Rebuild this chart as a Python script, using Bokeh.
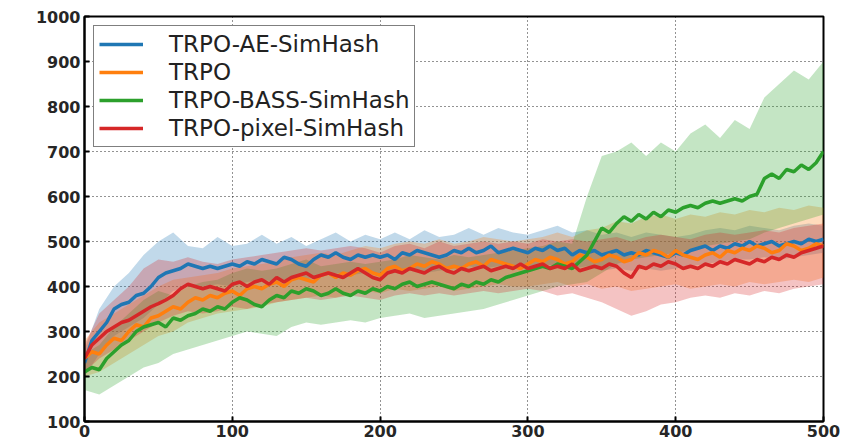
from bokeh.plotting import figure
from bokeh.models import ColumnDataSource, Legend, LegendItem, FixedTicker, Range1d
from bokeh.embed import file_html
from bokeh.resources import INLINE

# iterations
x_mean = list(range(0, 501, 5))
x_band = list(range(0, 501, 10))

names = ["TRPO-AE-SimHash", "TRPO", "TRPO-BASS-SimHash", "TRPO-pixel-SimHash"]
colors = ["#1f77b4", "#ff7f0e", "#2ca02c", "#d62728"]

ae_mean = [230, 280, 300, 320, 350, 360, 365, 380, 385, 400,
           420, 430, 435, 440, 450, 445, 440, 445, 440, 445,
           450, 445, 455, 450, 460, 455, 450, 465, 460, 450,
           445, 460, 470, 465, 475, 465, 460, 470, 465, 470,
           465, 470, 460, 475, 470, 480, 475, 470, 465, 470,
           480, 475, 485, 475, 480, 490, 475, 480, 485, 480,
           475, 485, 480, 490, 480, 485, 470, 480, 475, 480,
           470, 475, 480, 470, 475, 470, 480, 475, 470, 465,
           475, 470, 480, 485, 490, 480, 490, 485, 495, 490,
           500, 490, 495, 500, 490, 495, 500, 495, 505, 500,
           505]
trpo_mean = [240, 255, 250, 270, 285, 280, 300, 315, 310, 330,
             335, 345, 355, 350, 365, 375, 370, 380, 375, 385,
             390, 380, 395, 400, 395, 405, 410, 400, 415, 420,
             415, 410, 425, 430, 420, 430, 425, 435, 440, 430,
             425, 440, 445, 435, 440, 450, 445, 455, 450, 440,
             445, 440, 450, 455, 445, 460, 455, 450, 445, 440,
             450, 460, 455, 465, 460, 450, 455, 470, 465, 455,
             460, 470, 465, 455, 460, 475, 470, 480, 475, 465,
             480, 470, 465, 460, 470, 475, 465, 480, 475, 485,
             480, 490, 485, 475, 480, 495, 490, 480, 485, 495,
             490]
bass_mean = [210, 220, 215, 240, 255, 270, 280, 300, 310, 315,
             320, 310, 330, 325, 335, 340, 350, 345, 355, 350,
             365, 375, 370, 360, 355, 370, 380, 375, 390, 385,
             395, 390, 380, 385, 395, 385, 380, 390, 385, 395,
             390, 400, 395, 405, 410, 400, 405, 410, 405, 400,
             395, 405, 400, 410, 405, 415, 410, 420, 425, 430,
             435, 440, 445, 440, 450, 445, 440, 455, 470, 500,
             530, 520, 540, 555, 545, 560, 550, 565, 555, 570,
             565, 575, 580, 575, 585, 590, 585, 590, 595, 590,
             600, 605, 640, 650, 640, 660, 655, 670, 660, 675,
             700]
pixel_mean = [240, 270, 285, 300, 310, 320, 325, 335, 345, 355,
              362, 370, 380, 395, 405, 400, 395, 400, 395, 390,
              405, 410, 400, 410, 415, 405, 420, 410, 420, 425,
              430, 420, 425, 430, 425, 420, 430, 440, 430, 420,
              415, 430, 435, 430, 440, 435, 430, 440, 445, 435,
              430, 440, 435, 440, 445, 435, 440, 445, 440, 450,
              440, 445, 450, 440, 445, 440, 450, 435, 440, 445,
              440, 450, 445, 430, 420, 445, 440, 450, 445, 455,
              450, 440, 445, 440, 450, 445, 455, 450, 460, 455,
              450, 460, 455, 465, 460, 470, 465, 475, 480, 485,
              490]

ae_lower = [200, 250, 290, 310, 330, 360, 390, 400, 400, 405,
            400, 410, 415, 410, 420, 415, 425, 430, 425, 430,
            425, 430, 435, 430, 435, 440, 445, 440, 445, 440,
            445, 450, 445, 440, 445, 435, 440, 435, 440, 435,
            440, 445, 450, 455, 460, 460, 465, 460, 465, 470,
            475]
ae_upper = [260, 350, 400, 430, 470, 500, 520, 490, 485, 510,
            490, 495, 515, 495, 510, 490, 505, 520, 500, 515,
            505, 520, 505, 525, 510, 515, 530, 515, 530, 520,
            515, 525, 535, 520, 525, 515, 520, 510, 520, 515,
            510, 515, 525, 530, 525, 535, 530, 525, 535, 540,
            535]
trpo_lower = [200, 210, 230, 250, 270, 290, 300, 320, 330, 340,
              345, 350, 355, 365, 370, 375, 380, 375, 385, 390,
              385, 395, 390, 395, 400, 390, 395, 400, 405, 400,
              400, 405, 410, 400, 405, 395, 400, 390, 395, 400,
              405, 395, 400, 405, 400, 410, 405, 410, 415, 410,
              420]
trpo_upper = [280, 320, 340, 360, 380, 400, 415, 420, 425, 430,
              440, 445, 450, 455, 465, 470, 475, 470, 480, 490,
              485, 495, 500, 495, 505, 495, 500, 510, 505, 500,
              505, 510, 520, 510, 525, 530, 545, 540, 555, 560,
              550, 560, 555, 565, 560, 570, 565, 575, 570, 580,
              575]
bass_lower = [170, 160, 180, 200, 220, 230, 250, 260, 270, 280,
              290, 300, 295, 290, 310, 320, 315, 320, 325, 320,
              330, 335, 340, 330, 335, 340, 345, 350, 360, 370,
              380, 390, 400, 405, 410, 430, 450, 460, 465, 470,
              475, 480, 490, 495, 500, 505, 520, 530, 540, 550,
              560]
bass_upper = [250, 270, 310, 340, 370, 390, 380, 400, 410, 415,
              430, 440, 435, 440, 450, 460, 445, 450, 455, 450,
              455, 460, 470, 465, 460, 470, 465, 470, 475, 480,
              485, 490, 500, 495, 600, 690, 700, 720, 690, 720,
              700, 740, 760, 730, 770, 750, 820, 850, 880, 860,
              900]
pixel_lower = [210, 240, 260, 280, 300, 320, 335, 345, 340, 345,
               355, 350, 360, 365, 370, 375, 370, 375, 380, 375,
               370, 380, 385, 380, 385, 380, 385, 390, 385, 390,
               395, 390, 380, 385, 375, 365, 350, 335, 345, 360,
               365, 375, 380, 375, 385, 380, 390, 385, 395, 400,
               405]
pixel_upper = [270, 340, 370, 400, 440, 460, 455, 465, 455, 450,
               460, 465, 470, 475, 480, 485, 480, 485, 490, 485,
               475, 490, 495, 485, 500, 490, 495, 500, 495, 500,
               495, 505, 500, 505, 500, 505, 510, 500, 510, 515,
               510, 505, 515, 520, 515, 520, 525, 520, 530, 535,
               540]

means = [ae_mean, trpo_mean, bass_mean, pixel_mean]
lowers = [ae_lower, trpo_lower, bass_lower, pixel_lower]
uppers = [ae_upper, trpo_upper, bass_upper, pixel_upper]

x_ticks = [0, 100, 200, 300, 400, 500]
y_ticks = [100, 200, 300, 400, 500, 600, 700, 800, 900, 1000]

p = figure(width=861, height=446, output_backend="svg", toolbar_location=None,
           x_range=Range1d(0, 500), y_range=Range1d(100, 1000),
           min_border_left=84, min_border_right=38, min_border_top=16, min_border_bottom=25)
p.background_fill_color = "white"
p.border_fill_color = "white"
p.outline_line_color = "black"
p.outline_line_width = 2

for ax in (p.xaxis[0], p.yaxis[0]):
    ax.axis_line_color = "black"
    ax.axis_line_width = 2
    ax.major_tick_in = 5
    ax.major_tick_out = 0
    ax.minor_tick_line_color = None
    ax.major_tick_line_color = "black"
    ax.major_tick_line_width = 2
    ax.major_label_text_font = "DejaVu Sans"
    ax.major_label_text_font_size = "16px"
    ax.major_label_text_font_style = "bold"
    ax.major_label_text_color = "#262626"
p.xaxis[0].ticker = FixedTicker(ticks=x_ticks)
p.yaxis[0].ticker = FixedTicker(ticks=y_ticks)
p.xaxis[0].major_label_standoff = 3
p.yaxis[0].major_label_standoff = 4

for g in (p.xgrid[0], p.ygrid[0]):
    g.grid_line_color = "black"
    g.grid_line_alpha = 0.85
    g.grid_line_width = 1
    g.grid_line_dash = "1 3"
p.xgrid[0].ticker = FixedTicker(ticks=x_ticks)
p.ygrid[0].ticker = FixedTicker(ticks=y_ticks)

items = []
for name, c, m, lo, up in zip(names, colors, means, lowers, uppers):
    band = ColumnDataSource(dict(x=x_band, lo=lo, up=up))
    p.varea(x="x", y1="lo", y2="up", source=band, fill_color=c, fill_alpha=0.28)
for name, c, m in zip(names, colors, means):
    src = ColumnDataSource(dict(x=x_mean, y=m))
    r = p.line(x="x", y="y", source=src, line_color=c, line_width=3.5)
    items.append(LegendItem(label=name, renderers=[r]))

legend = Legend(items=items, location="top_left")
legend.margin = 9
legend.padding = 5
legend.spacing = 2
legend.glyph_width = 44
legend.glyph_height = 22
legend.label_height = 22
legend.label_standoff = 26
legend.label_text_font = "DejaVu Sans"
legend.label_text_font_size = "23px"
legend.label_text_color = "#222222"
legend.border_line_color = "black"
legend.border_line_width = 1.5
legend.background_fill_color = "white"
legend.background_fill_alpha = 1.0
p.add_layout(legend, "center")

open("out.html", "w").write(file_html(p, INLINE))
